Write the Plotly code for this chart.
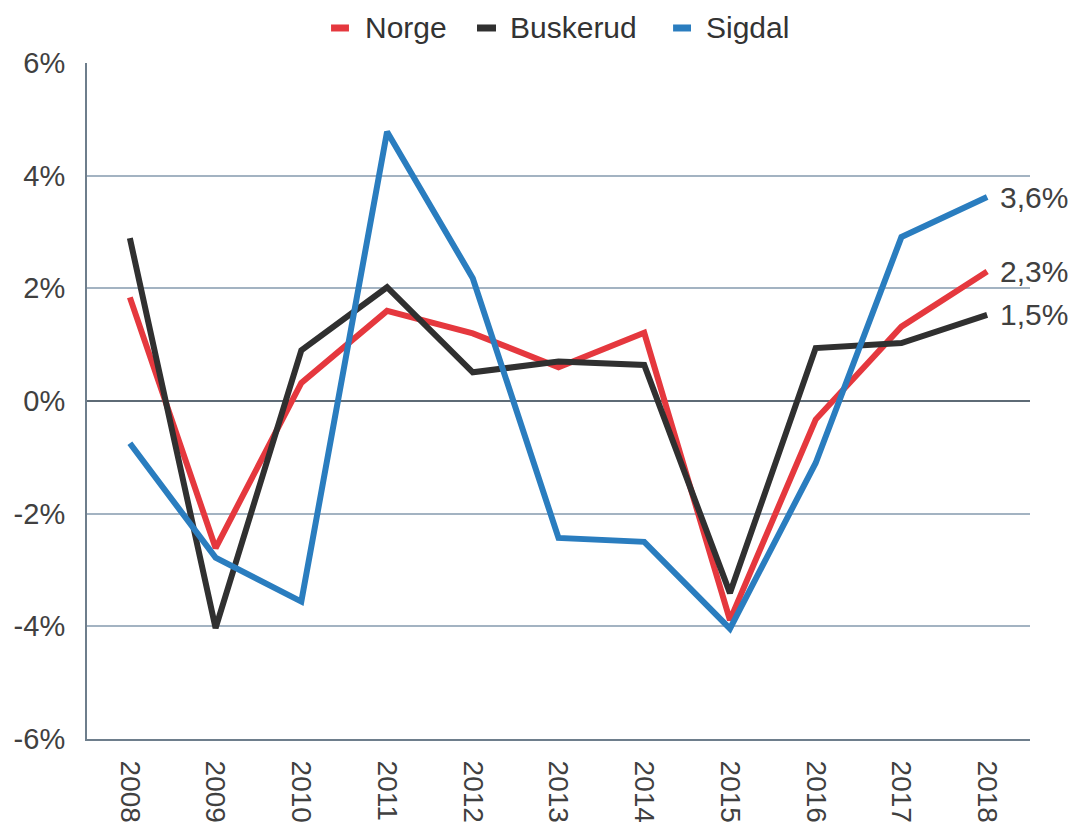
import plotly.graph_objects as go

years = ["2008", "2009", "2010", "2011", "2012", "2013", "2014", "2015", "2016", "2017", "2018"]
norge = [1.84, -2.61, 0.32, 1.60, 1.20, 0.60, 1.21, -3.89, -0.33, 1.32, 2.30]
buskerud = [2.89, -4.03, 0.90, 2.02, 0.51, 0.70, 0.64, -3.41, 0.94, 1.03, 1.53]
sigdal = [-0.75, -2.78, -3.56, 4.78, 2.18, -2.43, -2.50, -4.04, -1.10, 2.91, 3.62]
end_labels = ["2,3%", "1,5%", "3,6%"]
y_tickvals = [-6, -4, -2, 0, 2, 4, 6]
y_ticktext = ["-6%", "-4%", "-2%", "0%", "2%", "4%", "6%"]

names = ["Norge", "Buskerud", "Sigdal"]
colors = ["#E5383E", "#303030", "#2A7DBF"]
values = [norge, buskerud, sigdal]

# custom legend placement (paper coords)
legend_mark_x = [(0.2588, 0.2778), (0.4136, 0.4337), (0.6215, 0.6405)]
legend_text_x = [0.2927, 0.4464, 0.6543]
legend_y = 1.0518

fig = go.Figure()
for name, vals, col in zip(names, values, colors):
    fig.add_trace(go.Scatter(x=years, y=vals, name=name, mode="lines",
                             line=dict(color=col, width=6), showlegend=False))

last_idx = len(years) - 1
for vals, col, lab in zip(values, colors, end_labels):
    fig.add_annotation(x=last_idx, y=vals[-1], text=lab, showarrow=False,
                       xanchor="left", yanchor="middle", xshift=11,
                       font=dict(size=30, color="#404040"))

for name, col, (x0, x1), tx in zip(names, colors, legend_mark_x, legend_text_x):
    fig.add_shape(type="line", xref="paper", yref="paper", x0=x0, x1=x1,
                  y0=legend_y, y1=legend_y, line=dict(color=col, width=7))
    fig.add_annotation(xref="paper", yref="paper", x=tx, y=legend_y, text=name,
                       showarrow=False, xanchor="left", yanchor="middle",
                       font=dict(size=30, color="#333333"))

fig.update_layout(
    width=1071, height=821,
    margin=dict(l=79, r=49, t=55, b=90, autoexpand=False),
    paper_bgcolor="white", plot_bgcolor="white",
    font=dict(family="Liberation Sans, Arial, sans-serif", size=29, color="#404040"),
    showlegend=False,
)
fig.update_xaxes(type="category", range=[-0.5, 10.5], tickangle=90,
                 showgrid=False, showline=True, linecolor="#6E7E8C", linewidth=2,
                 ticks="", ticklabelstandoff=14, tickfont=dict(size=28, color="#404040"))
fig.update_yaxes(range=[-6, 6], tickvals=y_tickvals, ticktext=y_ticktext,
                 showgrid=True, gridcolor="#A3B3C2", gridwidth=1.5,
                 zeroline=True, zerolinecolor="#5E6B76", zerolinewidth=2,
                 showline=True, linecolor="#6E7E8C", linewidth=2,
                 ticks="", ticklabelstandoff=14, tickfont=dict(size=29, color="#404040"))

fig.write_html("out.html")
